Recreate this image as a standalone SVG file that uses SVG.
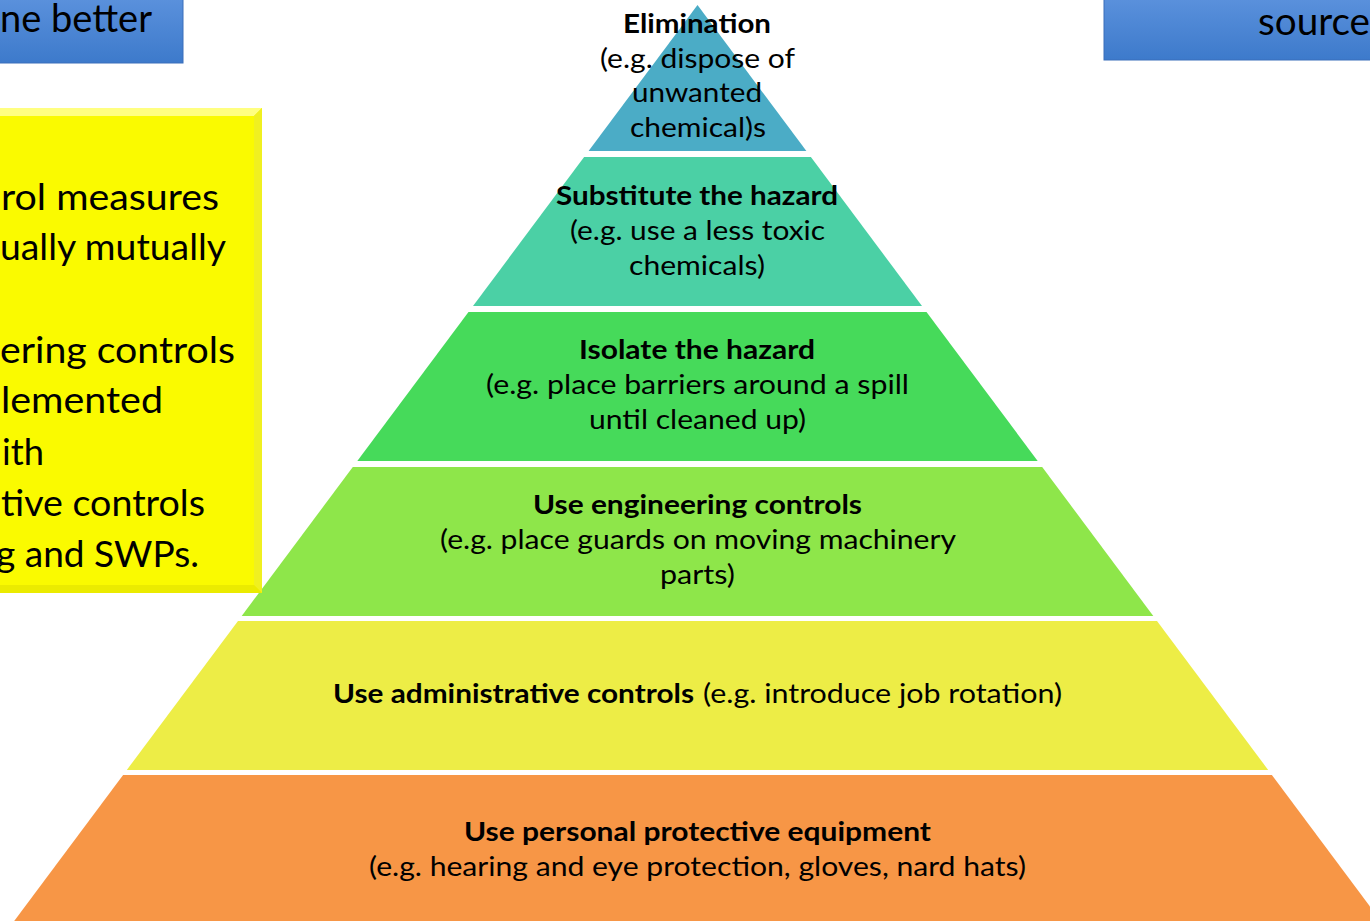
<svg xmlns="http://www.w3.org/2000/svg" width="1370" height="921" viewBox="0 0 1370 921">
<defs>
<linearGradient id="blueGrad" x1="0" y1="0" x2="0" y2="1">
<stop offset="0" stop-color="#5C92DD"/>
<stop offset="1" stop-color="#3D7ACB"/>
</linearGradient>
<style>
.t{font-family:"Lato","Liberation Sans",sans-serif;fill:#000;}
.p{font-size:26px;text-anchor:middle;}
.b{font-weight:bold;}
.y{font-size:36px;}
.hdr{font-size:38px;}
.blue{fill:url(#blueGrad);stroke:#3A6FBA;stroke-width:1;}
</style>
</defs>
<rect x="0" y="0" width="1370" height="921" fill="#FFFFFF"/>

<g id="box-left">
<rect class="blue" x="-5" y="-5" width="188" height="68"/>
<text class="t hdr" x="0" y="32" textLength="152" lengthAdjust="spacingAndGlyphs">ne better</text>
</g>

<g id="box-right">
<rect class="blue" x="1104" y="-5" width="275" height="65"/>
<text class="t hdr" x="1258" y="35" textLength="112" lengthAdjust="spacingAndGlyphs">source</text>
</g>

<g id="pyramid">
<g id="elimination">
<polygon points="697.5,5 806.4,151 588.6,151" fill="#4BACC6"/>
<text class="t p b" x="697" y="33" textLength="148" lengthAdjust="spacingAndGlyphs">Elimination</text>
<text class="t p" x="697.5" y="68" textLength="195" lengthAdjust="spacingAndGlyphs">(e.g. dispose of</text>
<text class="t p" x="697" y="102" textLength="130" lengthAdjust="spacingAndGlyphs">unwanted</text>
<text class="t p" x="698" y="137" textLength="136" lengthAdjust="spacingAndGlyphs">chemical)s</text>
</g>
<g id="substitute">
<polygon points="584.1,157 810.9,157 922,306 473,306" fill="#4BD0A5"/>
<text class="t p b" x="697" y="205" textLength="282" lengthAdjust="spacingAndGlyphs">Substitute the hazard</text>
<text class="t p" x="697.5" y="240" textLength="255" lengthAdjust="spacingAndGlyphs">(e.g. use a less toxic</text>
<text class="t p" x="697" y="275" textLength="136" lengthAdjust="spacingAndGlyphs">chemicals)</text>
</g>
<g id="isolate">
<polygon points="468.5,312 926.5,312 1037.7,461 357.3,461" fill="#46DA5A"/>
<text class="t p b" x="697" y="359" textLength="236" lengthAdjust="spacingAndGlyphs">Isolate the hazard</text>
<text class="t p" x="697.5" y="394" textLength="423" lengthAdjust="spacingAndGlyphs">(e.g. place barriers around a spill</text>
<text class="t p" x="697.5" y="429" textLength="217" lengthAdjust="spacingAndGlyphs">until cleaned up)</text>
</g>
<g id="engineering">
<polygon points="352.8,467 1042.2,467 1153.3,616 241.7,616" fill="#8EE64A"/>
<text class="t p b" x="697.5" y="514" textLength="329" lengthAdjust="spacingAndGlyphs">Use engineering controls</text>
<text class="t p" x="698" y="549" textLength="516" lengthAdjust="spacingAndGlyphs">(e.g. place guards on moving machinery</text>
<text class="t p" x="697.5" y="584" textLength="75" lengthAdjust="spacingAndGlyphs">parts)</text>
</g>
<g id="administrative">
<polygon points="238,621 1157,621 1268.2,770 126.8,770" fill="#EDED46"/>
<text class="t b" style="font-size:26px" x="333" y="703" textLength="361" lengthAdjust="spacingAndGlyphs">Use administrative controls</text>
<text class="t" style="font-size:26px" x="703" y="703" textLength="359" lengthAdjust="spacingAndGlyphs">(e.g. introduce job rotation)</text>
</g>
<g id="ppe">
<polygon points="123.1,775 1271.9,775 1380.8,921 14.2,921" fill="#F79646"/>
<text class="t p b" x="697.5" y="841" textLength="467" lengthAdjust="spacingAndGlyphs">Use personal protective equipment</text>
<text class="t p" x="697.5" y="876" textLength="657" lengthAdjust="spacingAndGlyphs">(e.g. hearing and eye protection, gloves, nard hats)</text>
</g>
</g>

<g id="note-box">
<rect x="-10" y="108" width="272" height="485" fill="#F2F200"/>
<polygon points="-10,108 262,108 254,116 -10,116" fill="#FFFF80"/>
<polygon points="262,108 262,593 254,585 254,116" fill="#F0F020"/>
<polygon points="-10,593 262,593 254,585 -10,585" fill="#EBEB00"/>
<rect x="-10" y="116" width="264" height="469" fill="#FAFA00"/>
<text class="t y" x="1" y="210" textLength="218" lengthAdjust="spacingAndGlyphs">rol measures</text>
<text class="t y" x="0" y="260" textLength="226" lengthAdjust="spacingAndGlyphs">ually mutually</text>
<text class="t y" x="0" y="363" textLength="235" lengthAdjust="spacingAndGlyphs">ering controls</text>
<text class="t y" x="1" y="413" textLength="162" lengthAdjust="spacingAndGlyphs">lemented</text>
<text class="t y" x="2" y="465" textLength="42" lengthAdjust="spacingAndGlyphs">ith</text>
<text class="t y" x="1" y="516" textLength="204" lengthAdjust="spacingAndGlyphs">tive controls</text>
<text class="t y" x="-4" y="567" textLength="203" lengthAdjust="spacingAndGlyphs">g and SWPs.</text>
</g>

<g id="connectors"></g>
</svg>
